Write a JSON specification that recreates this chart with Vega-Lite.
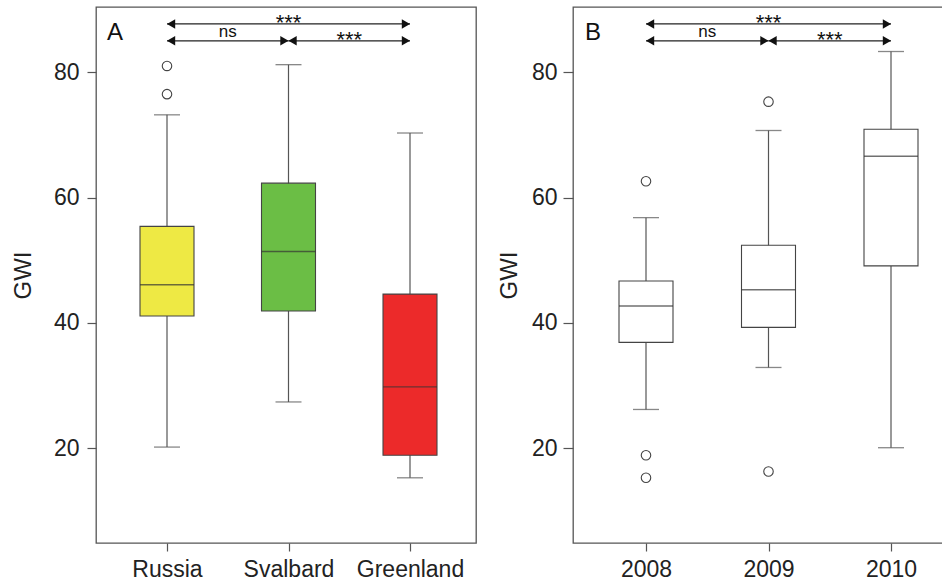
{
  "$schema": "https://vega.github.io/schema/vega-lite/v6.json",
  "padding": {"left": 10, "top": 6, "right": 0, "bottom": 0},
  "spacing": 19,
  "datasets": {
    "boxA": [
      {"site": "Russia", "lower": 20.2, "q1": 41.1, "median": 46.1, "q3": 55.4, "upper": 73.2},
      {"site": "Svalbard", "lower": 27.4, "q1": 41.9, "median": 51.4, "q3": 62.3, "upper": 81.2},
      {"site": "Greenland", "lower": 15.3, "q1": 18.9, "median": 29.8, "q3": 44.6, "upper": 70.3}
    ],
    "outA": [
      {"site": "Russia", "value": 81.0},
      {"site": "Russia", "value": 76.5}
    ],
    "annA": [
      {"from": "Russia", "to": "Greenland", "mid": "Svalbard", "level": 87.7, "label": "***"},
      {"from": "Russia", "to": "Svalbard", "mid": "Russia–Svalbard", "level": 85.0, "label": "ns"},
      {"from": "Svalbard", "to": "Greenland", "mid": "Svalbard–Greenland", "level": 85.0, "label": "***"}
    ],
    "boxB": [
      {"year": "2008", "lower": 26.2, "q1": 36.9, "median": 42.7, "q3": 46.7, "upper": 56.8},
      {"year": "2009", "lower": 32.9, "q1": 39.3, "median": 45.3, "q3": 52.4, "upper": 70.7},
      {"year": "2010", "lower": 20.1, "q1": 49.1, "median": 66.6, "q3": 70.9, "upper": 83.3}
    ],
    "outB": [
      {"year": "2008", "value": 62.6},
      {"year": "2008", "value": 18.9},
      {"year": "2008", "value": 15.3},
      {"year": "2009", "value": 75.3},
      {"year": "2009", "value": 16.3}
    ],
    "annB": [
      {"from": "2008", "to": "2010", "mid": "2009", "level": 87.7, "label": "***"},
      {"from": "2008", "to": "2009", "mid": "2008–2009", "level": 85.0, "label": "ns"},
      {"from": "2009", "to": "2010", "mid": "2009–2010", "level": 85.0, "label": "***"}
    ]
  },
  "hconcat": [
    {
      "width": 380,
      "height": 536,
      "title": {"text": "A", "anchor": "start", "frame": "group", "offset": -57, "dx": 11, "baseline": "alphabetic", "fontSize": 24, "fontWeight": "normal", "font": "Liberation Sans", "color": "#111"},
      "layer": [
        {
          "data": {"name": "boxA"},
          "mark": {"type": "rule", "color": "#555", "strokeWidth": 1.2},
          "encoding": {
            "x": {"field": "site", "type": "nominal", "title": null,
              "scale": {"type": "point", "domain": ["Russia", "Russia–Svalbard", "Svalbard", "Svalbard–Greenland", "Greenland"], "range": [71, 314], "padding": 0, "round": false},
              "axis": {"values": ["Russia", "Svalbard", "Greenland"], "labelAngle": 0, "tickSize": 8, "labelPadding": 7}},
            "y": {"field": "lower", "type": "quantitative", "title": "GWI",
              "scale": {"domain": [4.9, 90.4], "nice": false, "zero": false},
              "axis": {"values": [20, 40, 60, 80], "tickSize": 9, "labelPadding": 8, "titlePadding": 18}},
            "y2": {"field": "upper"}
          }
        },
        {
          "data": {"name": "boxA"},
          "mark": {"type": "tick", "color": "#555", "size": 26, "thickness": 1.3},
          "encoding": {"x": {"field": "site", "type": "nominal"}, "y": {"field": "upper", "type": "quantitative"}}
        },
        {
          "data": {"name": "boxA"},
          "mark": {"type": "tick", "color": "#555", "size": 26, "thickness": 1.3},
          "encoding": {"x": {"field": "site", "type": "nominal"}, "y": {"field": "lower", "type": "quantitative"}}
        },
        {
          "data": {"name": "boxA"},
          "mark": {"type": "bar", "size": 54, "stroke": "#444", "strokeWidth": 1.1},
          "encoding": {
            "x": {"field": "site", "type": "nominal"},
            "y": {"field": "q1", "type": "quantitative"},
            "y2": {"field": "q3"},
            "fill": {"field": "site", "type": "nominal", "legend": null,
              "scale": {"domain": ["Russia", "Svalbard", "Greenland"], "range": ["#EEE944", "#6BBE45", "#EC2A2A"]}}
          }
        },
        {
          "data": {"name": "boxA"},
          "mark": {"type": "tick", "color": "#333", "size": 54, "thickness": 1.4},
          "encoding": {"x": {"field": "site", "type": "nominal"}, "y": {"field": "median", "type": "quantitative"}}
        },
        {
          "data": {"name": "outA"},
          "mark": {"type": "point", "shape": "circle", "size": 90, "filled": false, "fill": "white", "stroke": "#444", "strokeWidth": 1.1, "opacity": 1},
          "encoding": {"x": {"field": "site", "type": "nominal"}, "y": {"field": "value", "type": "quantitative"}}
        },
        {
          "data": {"name": "annA"},
          "mark": {"type": "rule", "color": "#222", "strokeWidth": 1.3},
          "encoding": {"x": {"field": "from", "type": "nominal"}, "x2": {"field": "to"}, "y": {"field": "level", "type": "quantitative"}}
        },
        {
          "data": {"name": "annA"},
          "mark": {"type": "point", "shape": "triangle-left", "size": 90, "filled": true, "color": "#111", "opacity": 1, "xOffset": 4.1},
          "encoding": {"x": {"field": "from", "type": "nominal"}, "y": {"field": "level", "type": "quantitative"}}
        },
        {
          "data": {"name": "annA"},
          "mark": {"type": "point", "shape": "triangle-right", "size": 90, "filled": true, "color": "#111", "opacity": 1, "xOffset": -4.1},
          "encoding": {"x": {"field": "to", "type": "nominal"}, "y": {"field": "level", "type": "quantitative"}}
        },
        {
          "data": {"name": "annA"},
          "transform": [{"filter": "datum.label === '***'"}],
          "mark": {"type": "text", "font": "Liberation Sans", "fontSize": 22, "color": "#111", "baseline": "alphabetic", "dy": 6},
          "encoding": {"x": {"field": "mid", "type": "nominal"}, "y": {"field": "level", "type": "quantitative"}, "text": {"field": "label"}}
        },
        {
          "data": {"name": "annA"},
          "transform": [{"filter": "datum.label === 'ns'"}],
          "mark": {"type": "text", "font": "Liberation Sans", "fontSize": 17, "color": "#111", "baseline": "alphabetic", "dy": -3.5},
          "encoding": {"x": {"field": "mid", "type": "nominal"}, "y": {"field": "level", "type": "quantitative"}, "text": {"field": "label"}}
        }
      ]
    },
    {
      "width": 380,
      "height": 536,
      "title": {"text": "B", "anchor": "start", "frame": "group", "offset": -57, "dx": 12, "baseline": "alphabetic", "fontSize": 24, "fontWeight": "normal", "font": "Liberation Sans", "color": "#111"},
      "layer": [
        {
          "data": {"name": "boxB"},
          "mark": {"type": "rule", "color": "#555", "strokeWidth": 1.2},
          "encoding": {
            "x": {"field": "year", "type": "nominal", "title": null,
              "scale": {"type": "point", "domain": ["2008", "2008–2009", "2009", "2009–2010", "2010"], "range": [73, 318], "padding": 0, "round": false},
              "axis": {"values": ["2008", "2009", "2010"], "labelAngle": 0, "tickSize": 8, "labelPadding": 7}},
            "y": {"field": "lower", "type": "quantitative", "title": "GWI",
              "scale": {"domain": [4.9, 90.4], "nice": false, "zero": false},
              "axis": {"values": [20, 40, 60, 80], "tickSize": 10, "labelPadding": 6, "titlePadding": 10}},
            "y2": {"field": "upper"}
          }
        },
        {
          "data": {"name": "boxB"},
          "mark": {"type": "tick", "color": "#555", "size": 26, "thickness": 1.3},
          "encoding": {"x": {"field": "year", "type": "nominal"}, "y": {"field": "upper", "type": "quantitative"}}
        },
        {
          "data": {"name": "boxB"},
          "mark": {"type": "tick", "color": "#555", "size": 26, "thickness": 1.3},
          "encoding": {"x": {"field": "year", "type": "nominal"}, "y": {"field": "lower", "type": "quantitative"}}
        },
        {
          "data": {"name": "boxB"},
          "mark": {"type": "bar", "size": 54, "fill": "white", "stroke": "#444", "strokeWidth": 1.1},
          "encoding": {
            "x": {"field": "year", "type": "nominal"},
            "y": {"field": "q1", "type": "quantitative"},
            "y2": {"field": "q3"}
          }
        },
        {
          "data": {"name": "boxB"},
          "mark": {"type": "tick", "color": "#333", "size": 54, "thickness": 1.4},
          "encoding": {"x": {"field": "year", "type": "nominal"}, "y": {"field": "median", "type": "quantitative"}}
        },
        {
          "data": {"name": "outB"},
          "mark": {"type": "point", "shape": "circle", "size": 90, "filled": false, "fill": "white", "stroke": "#444", "strokeWidth": 1.1, "opacity": 1},
          "encoding": {"x": {"field": "year", "type": "nominal"}, "y": {"field": "value", "type": "quantitative"}}
        },
        {
          "data": {"name": "annB"},
          "mark": {"type": "rule", "color": "#222", "strokeWidth": 1.3},
          "encoding": {"x": {"field": "from", "type": "nominal"}, "x2": {"field": "to"}, "y": {"field": "level", "type": "quantitative"}}
        },
        {
          "data": {"name": "annB"},
          "mark": {"type": "point", "shape": "triangle-left", "size": 90, "filled": true, "color": "#111", "opacity": 1, "xOffset": 4.1},
          "encoding": {"x": {"field": "from", "type": "nominal"}, "y": {"field": "level", "type": "quantitative"}}
        },
        {
          "data": {"name": "annB"},
          "mark": {"type": "point", "shape": "triangle-right", "size": 90, "filled": true, "color": "#111", "opacity": 1, "xOffset": -4.1},
          "encoding": {"x": {"field": "to", "type": "nominal"}, "y": {"field": "level", "type": "quantitative"}}
        },
        {
          "data": {"name": "annB"},
          "transform": [{"filter": "datum.label === '***'"}],
          "mark": {"type": "text", "font": "Liberation Sans", "fontSize": 22, "color": "#111", "baseline": "alphabetic", "dy": 6},
          "encoding": {"x": {"field": "mid", "type": "nominal"}, "y": {"field": "level", "type": "quantitative"}, "text": {"field": "label"}}
        },
        {
          "data": {"name": "annB"},
          "transform": [{"filter": "datum.label === 'ns'"}],
          "mark": {"type": "text", "font": "Liberation Sans", "fontSize": 17, "color": "#111", "baseline": "alphabetic", "dy": -3.5},
          "encoding": {"x": {"field": "mid", "type": "nominal"}, "y": {"field": "level", "type": "quantitative"}, "text": {"field": "label"}}
        }
      ]
    }
  ],
  "config": {
    "font": "Liberation Sans",
    "background": "white",
    "view": {"stroke": "#555", "strokeWidth": 1.3},
    "axis": {
      "labelFont": "Liberation Sans", "labelFontSize": 23, "labelColor": "#222",
      "titleFont": "Liberation Sans", "titleFontSize": 24, "titleFontWeight": "normal", "titleColor": "#222",
      "domain": false, "grid": false, "tickColor": "#555", "tickWidth": 1.2
    }
  }
}
